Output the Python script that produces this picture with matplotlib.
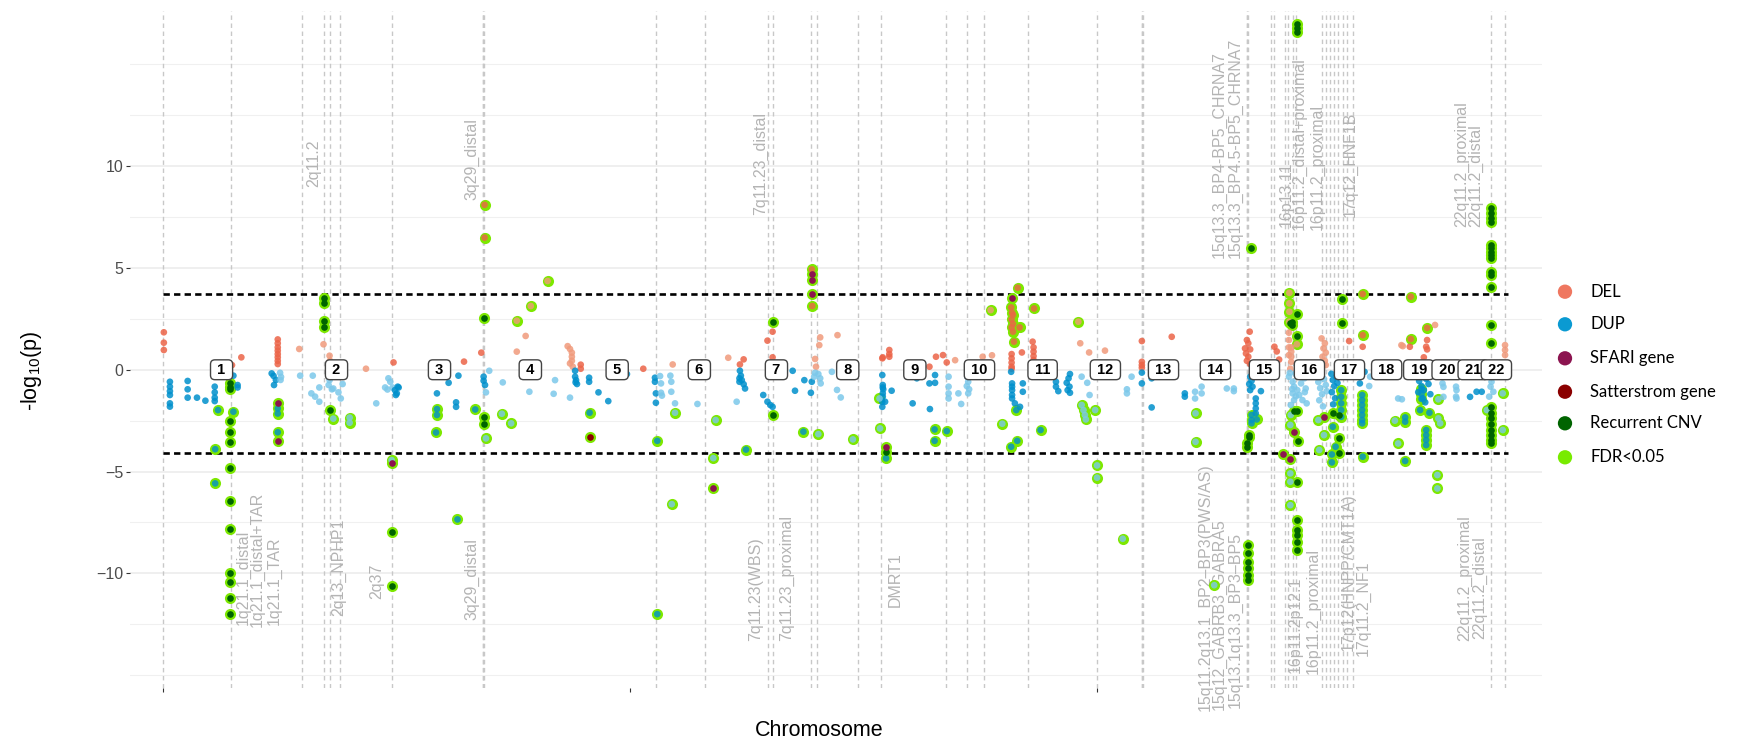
import numpy as np
import matplotlib
matplotlib.use("Agg")
import matplotlib.pyplot as plt

plt.rcParams['font.family'] = ['Liberation Sans', 'DejaVu Sans']
plt.rcParams['axes.unicode_minus'] = True

W, H, DPI = 1741, 743, 100

# ---------------------------------------------------------------- genome layout
chrom_names = [str(i) for i in range(1, 23)]
chrom_len_mb = [249.25, 243.20, 198.02, 191.15, 180.92, 171.12, 159.14, 146.36,
                141.21, 135.53, 135.01, 133.85, 115.17, 107.35, 102.53, 90.35,
                81.20, 78.08, 59.13, 63.03, 48.13, 51.30]

# significance thresholds (signed -log10 p: deletions up, duplications down)
threshold_del = 3.72
threshold_dup = -4.09

# ---------------------------------------------------------------- point data
# positions are cumulative genome coordinates in Mb
del_pos = [1, 1, 1, 147, 167, 245, 245, 245, 245, 245, 245, 245, 245,
           291, 343, 356, 357, 434,
           493, 644, 681,
           757, 776, 866, 871, 875, 875, 875, 871, 877,
           894, 894, 1028,
           1091, 1210,
           1235, 1243, 1305, 1294, 1305, 1307,
           1396, 1398, 1405, 1407, 1444,
           1540, 1541, 1555, 1555, 1555, 1641, 1655, 1678, 1670,
           1696, 1722, 1755, 1753, 1775,
           1817, 1817, 1817, 1817, 1817, 1839, 1862, 1864, 1864, 1864, 1864,
           1964, 1983, 2017, 2041,
           2096, 2096, 2096, 2096, 2160, 2126,
           2327, 2321, 2324, 2317, 2328, 2319, 2324, 2321, 2328, 2380, 2385, 2390,
           2411, 2411, 2411, 2411, 2416, 2416, 2416, 2416, 2414, 2481, 2488, 2485, 2490, 2483, 2488, 2490,
           2540, 2569,
           2655, 2652,
           2670, 2707, 2707, 2705, 2700, 2700, 2700,
           2724,
           2874, 2874, 2874]
del_logp = [1.84, 1.33, 0.97, 0.23, 0.61, 1.49, 1.30, 1.10, 0.94, 0.77, 0.61, 0.44, 0.28,
            1.02, 1.25, 0.69, 0.44, 0.05,
            0.36, 0.40, 0.84,
            0.89, 1.66, 1.16, 1.02, 0.84, 0.64, 0.44, 0.31, 0.15,
            0.25, 0.05, 0.05,
            0.26, 0.59,
            0.26, 0.51, 1.87, 1.43, 0.61, 0.35,
            0.53, 0.15, 1.21, 1.59, 1.70,
            0.56, 0.61, 0.97, 0.77, 0.64, 0.15, 0.64, 0.36, 0.72,
            0.47, 0.15, 0.64, 0.23, 0.71,
            0.77, 0.56, 0.35, 0.15, 0.05, 0.85, 1.38, 1.10, 0.89, 0.67, 0.48,
            1.30, 0.85, 0.94, 0.07,
            1.41, 0.39, 0.23, 0.10, 1.62, 0.23,
            1.87, 1.46, 1.30, 1.05, 1.00, 0.80, 0.64, 0.44, 0.28, 1.13, 0.90, 0.50,
            1.82, 1.46, 1.10, 0.72, 1.10, 0.89, 0.64, 0.39, 0.05, 1.54, 1.30, 1.05, 0.84, 0.64, 0.44, 0.23,
            1.41, 1.13,
            1.16, 1.21,
            1.13, 1.46, 1.00, 1.13, 0.61, 0.39, 0.15,
            2.20,
            1.21, 0.97, 0.72]

dup_pos = [14, 14, 14, 14, 14, 14, 52, 52, 52, 72, 90, 110, 110, 110, 110, 150, 159, 159, 232, 236, 241, 237,
           250, 252, 251, 293, 320, 317, 325, 334, 334, 356, 356, 354, 361, 364, 375, 380, 384, 456, 482, 486, 475, 491, 480,
           496, 500, 504, 498, 502, 586, 611, 632, 627, 627, 686, 686, 689,
           698, 691, 727, 784, 836, 839, 871,
           882, 882, 884, 886, 883, 912, 912, 932, 953, 993, 1053, 1053, 1055, 1055,
           1064, 1066, 1066, 1068, 1086, 1088, 1088, 1096, 1144, 1228,
           1235, 1237, 1234, 1239, 1243, 1246, 1234, 1285, 1294, 1300, 1305, 1348, 1373, 1353, 1387, 1389,
           1396, 1403, 1407, 1394, 1408, 1432, 1443, 1451,
           1540, 1541, 1541, 1542, 1541, 1541, 1540, 1540, 1560, 1546, 1605, 1614, 1641, 1653, 1653, 1642,
           1682, 1682, 1682, 1682, 1703, 1709, 1722, 1724, 1721, 1726, 1724,
           1816, 1818, 1818, 1818, 1818, 1818, 1841, 1841, 1824, 1835, 1912, 1912, 1917, 1942, 1939, 1935, 1941, 1937, 1942,
           1967, 1984, 1979, 2074, 2064, 2064,
           2096, 2096, 2117, 2117, 2188, 2188,
           2210, 2210, 2224, 2224, 2278, 2293, 2293,
           2335, 2328, 2331, 2326, 2333, 2328, 2340, 2340, 2340, 2340, 2351,
           2411, 2419, 2422, 2429, 2433, 2422, 2415, 2437, 2444, 2447, 2429, 2419, 2440, 2449, 2413,
           2425, 2435, 2418, 2426, 2445, 2470, 2474, 2478, 2482, 2486, 2490, 2476, 2484, 2492, 2480,
           2502, 2505, 2508, 2503, 2510, 2512, 2506, 2515, 2573, 2563,
           2585, 2583, 2645, 2653,
           2685, 2690, 2695, 2700, 2705, 2710, 2714, 2698, 2688, 2703,
           2769, 2769, 2740, 2742, 2742, 2770, 2770,
           2799, 2813, 2824,
           2838, 2845, 2843, 2849, 2840]
dup_logp = [-0.59, -0.83, -1.05, -1.24, -1.65, -1.81, -0.55, -0.96, -1.37, -1.37, -1.52, -0.83, -1.11, -1.37, -1.54, -0.29, -0.75, -0.87, -0.18, -0.30, -0.50, -0.75,
            -0.15, -0.35, -0.50, -0.29, -0.29, -1.16, -1.32, -1.57, -0.87, -0.18, -0.51, -0.75, -0.96, -0.92, -1.11, -1.41, -0.70, -1.65, -0.42, -0.59, -0.87, -0.87, -0.97,
            -1.00, -1.16, -0.87, -1.24, -0.83, -1.16, -0.64, -0.29, -1.60, -1.82, -0.34, -0.54, -0.75,
            -0.05, -1.11, -0.62, -1.08, -1.18, -0.51, -1.37,
            -0.05, -0.34, -0.51, -0.70, -0.62, -0.39, -0.59, -1.11, -1.54, -0.21, -0.39, -0.59, -1.16, -1.62,
            -0.31, -0.67, -1.13, -1.27, -0.29, -0.59, -1.08, -1.65, -1.68, -1.57,
            -0.05, -0.29, -0.42, -0.51, -0.71, -0.92, -0.59, -1.24, -1.57, -1.73, -1.82, -0.05, -0.51, -1.03, -1.13, -0.59,
            -0.15, -0.21, -0.42, -0.34, -0.67, -0.10, -0.99, -1.36,
            -0.26, -0.75, -0.87, -0.96, -1.16, -1.32, -1.57, -1.82, -1.03, -1.57, -1.65, -0.42, -0.67, -0.26, -0.64, -1.93,
            -0.34, -0.83, -1.16, -1.41, -1.16, -1.68, -0.34, -0.59, -0.80, -0.96, -1.16,
            -0.10, -0.67, -0.83, -1.00, -1.24, -1.41, -0.67, -1.08, -1.65, -1.82, -0.59, -0.83, -1.05, -0.21, -0.42, -0.64, -0.83, -1.00, -1.13,
            -0.34, -1.24, -0.64, -0.34, -0.96, -1.16,
            -0.14, -0.67, -0.42, -1.85, -1.16, -1.32,
            -1.08, -1.41, -0.83, -1.16, -0.92, -0.92, -1.05,
            -0.21, -0.34, -0.54, -0.70, -0.83, -1.00, -1.41, -1.65, -1.90, -2.14, -1.05,
            -0.34, -0.59, -0.83, -1.00, -1.24, -1.49, -1.73, -0.67, -0.42, -0.92, -0.34, -1.16, -1.49, -1.65, -0.15,
            -0.20, -0.25, -0.95, -1.30, -1.10, -0.30, -0.60, -0.90, -1.20, -0.45, -0.75, -1.50, -1.80, -1.05, -0.20,
            -0.20, -0.50, -0.80, -1.10, -1.40, -0.35, -1.70, -0.65, -0.10, -0.67,
            -0.34, -0.80, -1.41, -1.45,
            -0.35, -0.55, -0.80, -1.00, -0.45, -0.70, -1.20, -1.40, -1.10, -1.60,
            -0.83, -1.32, -0.67, -0.84, -1.33, -1.00, -1.41,
            -1.33, -1.08, -1.08,
            -0.34, -0.59, -0.83, -1.08, -1.32]

# CNVs passing FDR < 0.05 (no further annotation)
fdr_pos = [117, 150, 111, 111, 245, 245, 245,
           364, 399, 399, 489,
           586, 586, 584, 668, 630, 688, 688,
           691, 725, 745, 757, 787, 823,
           913, 1058, 1058,
           1089, 1096, 1183, 1178,
           1248, 1371, 1389, 1390,
           1403, 1477, 1535, 1534,
           1548, 1652, 1652, 1678,
           1772, 1797,
           1816, 1818, 1820, 1817, 1820, 1817, 1820, 1822, 1830, 1865, 1834, 1827, 1829, 1816, 1879,
           1960, 1967, 1971, 1974, 1976, 1996, 2000, 2000, 2055,
           2211, 2211, 2251,
           2331, 2331, 2331, 2342,
           2412, 2412, 2412, 2412, 2428, 2415, 2414, 2414, 2414, 2414, 2474, 2476, 2486,
           2505, 2503, 2503, 2511, 2523, 2523, 2523, 2523, 2523, 2569, 2569,
           2568, 2568, 2568, 2568, 2568, 2568, 2568, 2569,
           2638, 2645,
           2660, 2660, 2660, 2672, 2672, 2707, 2692, 2712, 2705, 2705, 2705, 2705, 2695, 2695, 2695,
           2731, 2735, 2731, 2729, 2729,
           2869, 2869, 2835]
fdr_logp = [-1.98, -2.06, -3.90, -5.58, -1.90, -2.15, -3.07,
            -2.40, -2.35, -2.60, -4.44,
            -1.93, -2.22, -3.08, -1.95, -7.35, 8.10, 6.49,
            -3.37, -2.16, -2.63, 2.41, 3.13, 4.36,
            -2.11, -3.49, -12.00,
            -6.60, -2.11, -2.47, -4.34,
            -3.92, -3.04, 4.93, 3.13,
            -3.16, -3.42, -2.88, -1.41,
            -4.35, -2.93, -3.49, -3.01,
            2.93, -2.65,
            3.06, 2.80, 2.69, 2.47, 2.25, 2.08, 1.87, 1.38, 4.03, 3.01, 2.08, -1.98, -3.49, -3.78, -2.96,
            2.36, -1.73, -1.98, -2.22, -2.44, -1.98, -4.70, -5.30, -8.30,
            -2.14, -3.54, -10.58,
            -2.22, -2.47, -2.63, -2.44,
            3.78, 3.26, 2.85, 2.36, 1.25, -2.22, -2.71, -5.09, -5.50, -6.65, -2.47, -3.94, -3.21,
            -2.80, -4.16, -4.55, -3.78, -1.00, -1.33, -1.65, -1.98, -2.31, 1.70, 3.72,
            -1.24, -1.49, -1.73, -1.98, -2.22, -2.47, -2.63, -4.27,
            -2.50, -3.62,
            -2.34, -2.55, -4.48, 3.59, 1.51, 2.06, -1.98, -2.11, -2.96, -3.21, -3.45, -3.70, -0.96, -1.18, -1.43,
            -1.45, -2.63, -2.39, -5.17, -5.83,
            -1.16, -2.96, -1.98]

# recurrent CNV loci
recurrent_pos = [142, 142, 142, 142, 142, 142, 143, 143, 143, 143, 143, 143, 143,
                 343, 343, 343, 343, 357, 489, 489,
                 686, 686, 686,
                 1305, 1305,
                 1548,
                 2326, 2326, 2322, 2322, 2324, 2324, 2324, 2324, 2324, 2324, 2329,
                 2418, 2418, 2428, 2429, 2428, 2428, 2428, 2422, 2428, 2431, 2428, 2428, 2428, 2428, 2428, 2428, 2413,
                 2505, 2518, 2518, 2519, 2524, 2524,
                 2843, 2843, 2843, 2843, 2843, 2843, 2843, 2843, 2843, 2843, 2843,
                 2843, 2843, 2843, 2843, 2843, 2843, 2843, 2843, 2843, 2843, 2843]
recurrent_logp = [-0.67, -0.83, -0.96, -2.50, -3.04, -3.53, -4.81, -6.43, -7.84, -10.00, -10.41, -11.20, -12.00,
                  3.50, 3.30, 2.40, 2.10, -1.98, -7.95, -10.60,
                  2.56, -2.31, -2.67,
                  2.36, -2.22,
                  -4.05,
                  -3.21, -3.32, -3.62, -3.78, -8.61, -9.02, -9.43, -9.76, -10.08, -10.33, 5.99,
                  2.36, 2.20, 2.74, 1.66, 17.00, 16.80, 16.60, -2.01, -2.01, -3.49, -5.50, -7.38, -7.87, -8.12, -8.45, -8.85, 2.28,
                  -2.14, -2.22, -3.37, -4.08, 3.47, 2.31,
                  7.93, 7.68, 7.44, 7.27, 6.12, 5.96, 5.80, 5.63, 5.47, 4.82, 4.65,
                  4.08, 2.20, 1.30, -1.82, -2.11, -2.39, -2.68, -2.96, -3.21, -3.45, -3.62]

# CNVs hitting SFARI genes
sfari_pos = [245, 245, 489, 1178, 1389, 1389, 1389, 1548, 1818, 2398, 2414, 2422, 2487]
sfari_logp = [-1.65, -3.49, -4.57, -5.81, 4.70, 4.40, 3.72, -3.80, 3.51, -4.14, -4.40, -3.07, -2.31]

# CNVs hitting Satterstrom genes
satterstrom_pos = [913]
satterstrom_logp = [-3.32]

# ---------------------------------------------------------------- locus annotation
locus_lines = [0, 144.6, 297.9, 344.4, 357.3, 378.7, 489.4, 684.2, 685.6, 687.0,
               1054.8, 1160.4, 1296.0, 1306.7, 1387.5, 1399.6, 1488.7, 1536.7,
               1676.6, 1722.2, 1758.6, 1851.6, 2000.0, 2095.5, 2097.0, 2098.5,
               2320.4, 2321.9, 2323.4, 2372.0, 2379.7, 2402.6, 2409.7, 2420.4, 2426.2,
               2481.3, 2489.8, 2499.0, 2507.6, 2516.8, 2526.2, 2534.8, 2547.6,
               2843.2, 2873.9]

top_label_text = ["2q11.2", "3q29_distal", "7q11.23_distal",
                  "15q13.3_BP4-BP5_CHRNA7", "15q13.3_BP4.5-BP5_CHRNA7",
                  "16p13.11", "16p11.2_distal+proximal", "16p11.2_proximal",
                  "17q12_HNF1B", "22q11.2_proximal", "22q11.2_distal"]
top_label_pos = [323, 661, 1279, 2262, 2296, 2405, 2433, 2471, 2543, 2781, 2812]
top_label_y = [9.0, 8.33, 7.6, 5.49, 5.49, 7.0, 6.86, 6.86, 7.5, 7.0, 7.0]

bottom_label_text = ["1q21.1_distal", "1q21.1_distal+TAR", "1q21.1_TAR", "2q13_NPHP1", "2q37",
                     "3q29_distal", "7q11.23(WBS)", "7q11.23_proximal", "DMRT1",
                     "15q11.2q13.1_BP2\u2013BP3(PWS/AS)", "15q12_GABRB3_GABRA5",
                     "15q13.1q13.3_BP3\u2013BP5", "16p11.2p12.1", "16p11.2_proximal",
                     "17p12(HNPP/CMT1A)", "17q11.2_NF1", "22q11.2_proximal", "22q11.2_distal"]
bottom_label_pos = [172, 202, 238, 375, 457, 661, 1268, 1334, 1567,
                    2231, 2262, 2296, 2424, 2463, 2538, 2570, 2788, 2820]
bottom_label_y = [-7.87, -5.99, -8.2, -7.3, -9.51, -8.28, -8.22, -7.11, -8.97,
                  -4.6, -7.28, -7.96, -10.17, -8.77, -6.07, -9.35, -7.14, -8.2]

# ---------------------------------------------------------------- styling
col_del_dark, col_del_light = '#EC6448', '#F09A7C'
col_dup_dark, col_dup_light = '#0090CC', '#7CC8EA'
col_ring = '#7DE800'
col_recurrent = '#006400'
col_sfari = '#8C1450'
col_satterstrom = '#8B0000'

starts = np.concatenate([[0.0], np.cumsum(chrom_len_mb)])
genome_end = starts[-1]
centers = starts[:-1] + np.array(chrom_len_mb) / 2


def shade(pos, logp):
    pos = np.asarray(pos, float)
    logp = np.asarray(logp, float)
    idx = np.clip(np.searchsorted(starts, pos, side='right') - 1, 0, 21)
    odd_chrom = (idx % 2) == 0
    cols = np.where(logp > 0,
                    np.where(odd_chrom, col_del_dark, col_del_light),
                    np.where(odd_chrom, col_dup_dark, col_dup_light))
    return list(cols)


fig = plt.figure(figsize=(W / DPI, H / DPI), dpi=DPI)
ax = fig.add_axes([130 / W, 1 - 688 / H, (1541.7 - 130) / W, (688 - 11) / H])
ax.set_xlim(-71.5, 2952.5)
ax.set_ylim(-15.63, 17.62)
for s in ax.spines.values():
    s.set_visible(False)

# grid
ax.set_yticks([-10, -5, 0, 5, 10])
ax.set_yticklabels(['\u221210', '\u22125', '0', '5', '10'])
ax.set_yticks([-15, -12.5, -7.5, -2.5, 2.5, 7.5, 12.5, 15], minor=True)
ax.grid(axis='y', which='major', color='#EBEBEB', lw=1.1, zorder=0)
ax.grid(axis='y', which='minor', color='#F0F0F0', lw=0.8, zorder=0)
ax.set_axisbelow(True)
ax.tick_params(axis='y', which='major', length=3, width=0.8, color='#333333',
               labelsize=11.5, labelcolor='#4D4D4D', pad=2)
ax.tick_params(axis='y', which='minor', length=0)
ax.set_xticks([0, 1000, 2000])
ax.set_xticklabels(['', '', ''])
ax.tick_params(axis='x', length=3, width=0.8, color='#333333')

# locus lines
for x in locus_lines:
    ax.axvline(x, color='#C8C8C8', lw=1.0, ls=(0, (3.2, 2.6)), zorder=1)

# significance thresholds
ax.hlines([threshold_del, threshold_dup], 0, genome_end, colors='black',
          lw=1.9, linestyles=[(0, (2.4, 1.6))], zorder=2)

# points
sig_pos = fdr_pos + recurrent_pos + sfari_pos + satterstrom_pos
sig_logp = fdr_logp + recurrent_logp + sfari_logp + satterstrom_logp
ax.scatter(sig_pos, sig_logp, s=64, c=col_ring, linewidths=0, zorder=3)

ax.scatter(del_pos, del_logp, s=23, c=shade(del_pos, del_logp), alpha=0.85, linewidths=0, zorder=4)
ax.scatter(dup_pos, dup_logp, s=23, c=shade(dup_pos, dup_logp), alpha=0.85, linewidths=0, zorder=4)
ax.scatter(fdr_pos, fdr_logp, s=23, c=shade(fdr_pos, fdr_logp), alpha=0.8, linewidths=0, zorder=4)
ax.scatter(recurrent_pos, recurrent_logp, s=23, c=col_recurrent, linewidths=0, zorder=5)
ax.scatter(sfari_pos, sfari_logp, s=23, c=col_sfari, linewidths=0, zorder=5)
ax.scatter(satterstrom_pos, satterstrom_logp, s=23, c=col_satterstrom, linewidths=0, zorder=5)

# locus names
for t, x, y in zip(top_label_text, top_label_pos, top_label_y):
    ax.text(x, y, t, rotation=90, ha='center', va='bottom', fontsize=11.5,
            color='#B4B4B4', zorder=2, clip_on=False)
for t, x, y in zip(bottom_label_text, bottom_label_pos, bottom_label_y):
    ax.text(x, y, t, rotation=90, ha='center', va='top', fontsize=11.5,
            color='#B4B4B4', zorder=2, clip_on=False)

# chromosome tags
for name, cx in zip(chrom_names, centers):
    ax.text(cx, 0, f" {name} ", ha='center', va='center', fontsize=10.5, fontweight='bold',
            color='black', zorder=7,
            bbox=dict(boxstyle='round,pad=0.2,rounding_size=0.3', fc='white',
                      ec='#444444', lw=1.0))

# overlay for titles and legend (pixel coordinates)
ov = fig.add_axes([0, 0, 1, 1])
ov.set_xlim(0, W)
ov.set_ylim(H, 0)
ov.axis('off')
ov.patch.set_alpha(0)

ov.text(32, 371, "-log$_{\\mathregular{10}}$(p)", rotation=90, ha='center', va='center',
        fontsize=15.5, color='black')
ov.text(819, 731, "Chromosome", ha='center', va='center', fontsize=15.5, color='black')

legend_labels = ["DEL", "DUP", "SFARI gene", "Satterstrom gene", "Recurrent CNV", "FDR<0.05"]
legend_colors = ['#EF7760', '#0A9AD2', col_sfari, col_satterstrom, col_recurrent, '#78EB00']
legend_y = [291.7, 324.3, 358.3, 391.7, 423.3, 457.3]
ov.scatter([1565] * len(legend_y), legend_y, s=106, c=legend_colors, linewidths=0)
for lab, y in zip(legend_labels, legend_y):
    ov.text(1590, y, lab, ha='left', va='center', fontsize=12, family=['Lato', 'DejaVu Sans'],
            color='black')

fig.savefig("out.png", dpi=DPI)
